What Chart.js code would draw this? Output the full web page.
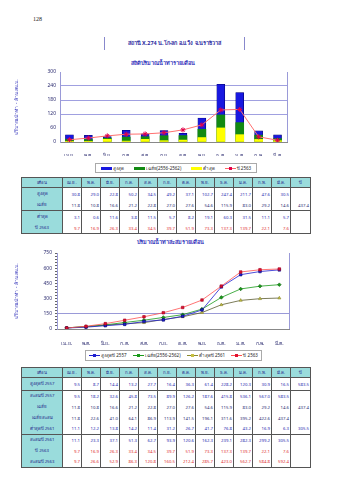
<!DOCTYPE html>
<html>
<head>
<meta charset="utf-8">
<script src="https://cdn.jsdelivr.net/npm/chart.js@4.4.1/dist/chart.umd.min.js"></script>
<style>
  body { margin: 0; background: #fff; font-family: "Noto Sans", "DejaVu Sans", sans-serif; }
  #page { position: relative; width: 339px; height: 480px; overflow: hidden; }
  .abs { position: absolute; }
  .pageno { left: 33px; top: 16px; font: 6px "Liberation Serif", serif; color: #222; }
  .station { left: 104px; top: 37px; width: 139px; height: 13px; border-left: 1px solid #8888cc; border-right: 1px solid #8888cc;
    text-align: center; line-height: 13px; font-size: 5.5px; font-weight: bold; color: #2a2aa0; }
  .ctitle { font-size: 5.5px; font-weight: bold; color: #3333bb; text-align: center; }
  .legend { border: 1px solid #aaa; font-size: 4.5px; color: #222; display: flex; align-items: center; justify-content: space-around; box-sizing: border-box; }
  .legend span { display: inline-flex; align-items: center; white-space: nowrap; }
  .sw { display: inline-block; width: 11px; height: 3px; margin-right: 1px; }
  .ln { display: inline-block; width: 11px; height: 1px; margin-right: 1px; position: relative; }
  .ln i { position: absolute; left: 4px; top: -1px; width: 3px; height: 3px; }
  table { border-collapse: collapse; table-layout: fixed; font-size: 4.3px; }
  td { border-left: 1px solid #555; border-right: 1px solid #555; text-align: right; padding: 0 1px; white-space: nowrap; overflow: hidden; }
  tr.h td { background: #9adcdc; text-align: center; color: #22228a; border: 1px solid #555; }
  td.lab { background: #9adcdc; text-align: center; color: #22228a; }
  tr.top td { border-top: 1px solid #555; }
  tr.last td { border-bottom: 1px solid #555; }
  canvas { position: absolute; }
</style>
</head>
<body>
<div id="page">
  <div class="abs pageno">128</div>
  <div class="abs station">สถานี X.274 น.โก-ลก อ.แว้ง จ.นราธิวาส</div>

  <div class="abs ctitle" style="left:80px;top:59px;width:166px;">สถิติปริมาณน้ำท่ารายเดือน</div>
  <canvas id="monthlyChart" width="280" height="100" style="left:14px;top:56px;"></canvas>
  <div class="abs legend" style="left:95px;top:163px;width:162px;height:10px;">
    <span><i class="sw" style="background:#1818e0"></i>สูงสุด</span>
    <span><i class="sw" style="background:#128a12"></i>เฉลี่ย(2556-2562)</span>
    <span><i class="sw" style="background:#ffff00"></i>ต่ำสุด</span>
    <span><i class="ln" style="background:#ff6666"><i style="background:#e0004c"></i></i>ปี 2563</span>
  </div>
  <table id="table1" class="abs" style="left:21px;top:177px;width:288px;"></table>

  <div class="abs ctitle" style="left:87px;top:238px;width:166px;">ปริมาณน้ำท่าสะสมรายเดือน</div>
  <canvas id="cumulativeChart" width="280" height="110" style="left:14px;top:236px;"></canvas>
  <div class="abs legend" style="left:85px;top:350px;width:177px;height:11px;">
    <span><i class="ln" style="background:#2020d0"><i style="background:#2020d0"></i></i>สูงสุดปี 2557</span>
    <span><i class="ln" style="background:#1a9a1a"><i style="background:#1a9a1a"></i></i>เฉลี่ย(2556-2562)</span>
    <span><i class="ln" style="background:#8a8a30"><i style="background:#c8c040"></i></i>ต่ำสุดปี 2561</span>
    <span><i class="ln" style="background:#ff5050"><i style="background:#e01030"></i></i>ปี 2563</span>
  </div>
  <table id="table2" class="abs" style="left:21px;top:367px;width:288px;"></table>
</div>

<script>
// month labels (water year Apr - Mar)
const months = ['เม.ย.', 'พ.ค.', 'มิ.ย.', 'ก.ค.', 'ส.ค.', 'ก.ย.', 'ต.ค.', 'พ.ย.', 'ธ.ค.', 'ม.ค.', 'ก.พ.', 'มี.ค.'];

// monthly runoff, million m3
const maxMonthly = [30.8, 29.0, 22.8, 50.2, 34.5, 49.2, 37.1, 102.7, 247.4, 211.7, 47.6, 30.5];
const meanMonthly = [11.8, 10.8, 16.6, 21.2, 22.8, 27.0, 27.6, 54.6, 115.9, 83.0, 29.2, 14.6];
const minMonthly = [3.1, 0.6, 11.6, 3.8, 11.5, 5.7, 8.2, 19.1, 60.3, 31.5, 11.1, 5.7];
const year2563 = [9.7, 16.9, 26.3, 33.4, 34.5, 39.7, 51.9, 73.3, 137.3, 139.7, 22.1, 7.6];

// year with highest / lowest runoff
const max2557 = [9.5, 8.7, 14.4, 13.2, 27.7, 16.4, 36.3, 61.4, 228.2, 120.3, 30.9, 16.5];
const min2561 = [11.1, 12.2, 13.8, 14.2, 11.4, 31.2, 26.7, 41.7, 76.8, 43.2, 16.9, 6.3];

// cumulative series
const cumMax2557 = [9.5, 18.2, 32.6, 45.8, 73.5, 89.9, 126.2, 187.6, 415.8, 536.1, 567.0, 583.5];
const cumMean = [11.8, 22.6, 41.0, 64.1, 86.9, 113.9, 141.5, 196.1, 311.6, 395.2, 422.6, 437.4];
const cumMin2561 = [11.1, 23.3, 37.1, 51.3, 62.7, 93.9, 120.6, 162.3, 239.1, 282.3, 299.2, 305.5];
const cum2563 = [9.7, 26.6, 52.9, 86.3, 120.8, 160.5, 212.4, 285.7, 423.0, 562.7, 584.8, 592.4];

// yearly totals
const totalMean = 437.4;
const totalMax2557 = 583.5;
const totalMin2561 = 305.5;

const axisTitle = 'ปริมาณน้ำท่า - ล้าน ลบ.ม.';
const fontFamily = '"Noto Sans", "DejaVu Sans", sans-serif';
const tickColor = '#2c2c70';

// right edge of the plot frame
const frameRight = {
  id: 'frameRight',
  afterDraw(chart) {
    const a = chart.chartArea;
    const c = chart.ctx;
    c.save();
    c.strokeStyle = '#9a9ad8';
    c.lineWidth = 1;
    c.beginPath();
    c.moveTo(Math.round(a.right) + 0.5, a.top);
    c.lineTo(Math.round(a.right) + 0.5, a.bottom);
    c.stroke();
    c.restore();
  },
};

Chart.defaults.font.family = fontFamily;
Chart.defaults.font.size = 5;
Chart.defaults.color = tickColor;
Chart.defaults.animation = false;

// Monthly chart
new Chart(document.getElementById('monthlyChart'), {
  type: 'bar',
  data: {
    labels: months,
    datasets: [
      {
        type: 'line',
        label: 'ปี 2563',
        data: year2563,
        borderColor: '#ff6f6f',
        borderWidth: 1,
        pointStyle: 'star',
        pointRadius: 2.5,
        pointBorderColor: '#e0004c',
        pointBackgroundColor: '#e0004c',
        pointBorderWidth: 1,
        order: 0,
      },
      { label: 'ต่ำสุด', data: minMonthly, backgroundColor: '#ffff00', order: 1 },
      { label: 'เฉลี่ย(2556-2562)', data: meanMonthly, backgroundColor: '#128a12', order: 2 },
      { label: 'สูงสุด', data: maxMonthly, backgroundColor: '#1818e0', borderColor: '#00006a', borderWidth: 0.6, order: 3 },
    ],
  },
  options: {
    responsive: false,
    layout: { padding: { top: 16, right: 7, left: 0, bottom: 0 } },
    plugins: { legend: { display: false }, tooltip: { enabled: false } },
    datasets: { bar: { barThickness: 8 } },
    scales: {
      x: {
        stacked: true,
        grid: { display: false },
        border: { color: '#888' },
        ticks: { padding: 3, maxRotation: 0 },
        afterFit(scale) { scale.height = 14; },
      },
      y: {
        stacked: false,
        min: 0,
        max: 300,
        ticks: { stepSize: 60, padding: 4 },
        grid: {
          color: (ctx) => (ctx.tick && [120, 180, 240].includes(ctx.tick.value) ? '#a0a0e0' : 'transparent'),
          drawTicks: false,
        },
        border: { color: '#9a9ad8' },
        title: { display: true, text: axisTitle, color: '#3333bb', padding: 0, font: { size: 5 } },
        afterFit(scale) { scale.width = 46; },
      },
    },
  },
  plugins: [frameRight],
});

// Cumulative chart
new Chart(document.getElementById('cumulativeChart'), {
  type: 'line',
  data: {
    labels: months,
    datasets: [
      { label: 'ปี 2563', data: cum2563, borderColor: '#ff5050', pointBackgroundColor: '#e01030', pointBorderColor: '#a00020', pointStyle: 'rect' },
      { label: 'สูงสุดปี 2557', data: cumMax2557, borderColor: '#2020d0', pointBackgroundColor: '#2020d0', pointBorderColor: '#000070', pointStyle: 'rect' },
      { label: 'เฉลี่ย(2556-2562)', data: cumMean, borderColor: '#1a9a1a', pointBackgroundColor: '#1a9a1a', pointBorderColor: '#0a5a0a', pointStyle: 'rectRot' },
      { label: 'ต่ำสุดปี 2561', data: cumMin2561, borderColor: '#5a5a30', pointBackgroundColor: '#c8c040', pointBorderColor: '#8a8a30', pointStyle: 'triangle' },
    ],
  },
  options: {
    responsive: false,
    layout: { padding: { top: 17, right: 5, left: 0, bottom: 0 } },
    plugins: { legend: { display: false }, tooltip: { enabled: false } },
    datasets: { line: { borderWidth: 0.8, pointRadius: 1.8, pointBorderWidth: 0.6, tension: 0 } },
    scales: {
      x: {
        offset: true,
        grid: { display: false },
        border: { color: '#888' },
        ticks: { padding: 4, maxRotation: 0 },
        afterFit(scale) { scale.height = 17; },
      },
      y: {
        min: 0,
        max: 750,
        ticks: {
          stepSize: 30,
          autoSkip: false,
          padding: 3,
          callback: (v) => (v % 150 === 0 ? v : ''),
        },
        grid: {
          color: (ctx) => (ctx.tick && ctx.tick.value === 150 ? '#9a9ad8' : 'transparent'),
          drawTicks: true,
          tickLength: 2,
          tickColor: '#666',
        },
        border: { color: '#9a9ad8' },
        title: { display: true, text: axisTitle, color: '#3333bb', padding: 0, font: { size: 5 } },
        afterFit(scale) { scale.width = 43; },
      },
    },
  },
  plugins: [frameRight],
});

// Tables
function fmt(v) { return v.toFixed(1); }

function buildTable(el, rows) {
  let html = '<colgroup><col style="width:41px">';
  months.forEach(() => { html += '<col style="width:19px">'; });
  html += '<col style="width:20px"></colgroup>';
  html += '<tr class="h" style="height:10px"><td>เดือน</td>' + months.map((m) => '<td>' + m + '</td>').join('') + '<td>ปี</td></tr>';
  rows.forEach((r) => {
    const cls = (r.top ? 'top ' : '') + (r.last ? 'last' : '');
    html += '<tr class="' + cls + '" style="height:' + r.h + 'px"><td class="lab">' + r.label + '</td>';
    html += r.values.map((v) => '<td style="color:' + r.color + '">' + fmt(v) + '</td>').join('');
    html += '<td style="color:' + r.color + '">' + (r.total != null ? fmt(r.total) : '') + '</td></tr>';
  });
  el.innerHTML = html;
}

buildTable(document.getElementById('table1'), [
  { label: 'สูงสุด', values: maxMonthly, color: '#2a2ab0', h: 11.5, top: true },
  { label: 'เฉลี่ย', values: meanMonthly, color: '#2a2a70', h: 11.5, total: totalMean },
  { label: 'ต่ำสุด', values: minMonthly, color: '#2a2ab0', h: 11.5, top: true },
  { label: 'ปี 2563', values: year2563, color: '#e03030', h: 11.5, last: true },
]);

buildTable(document.getElementById('table2'), [
  { label: 'สูงสุดปี 2557', values: max2557, color: '#2a2ab0', h: 12.5, top: true, total: totalMax2557 },
  { label: 'สะสมปี 2557', values: cumMax2557, color: '#2a2ab0', h: 11, top: true },
  { label: 'เฉลี่ย', values: meanMonthly, color: '#2a2a70', h: 11, total: totalMean },
  { label: 'เฉลี่ยสะสม', values: cumMean, color: '#2a2a70', h: 11 },
  { label: 'ต่ำสุดปี 2561', values: min2561, color: '#2a2ab0', h: 11, total: totalMin2561 },
  { label: 'สะสมปี 2561', values: cumMin2561, color: '#2a2ab0', h: 11, top: true },
  { label: 'ปี 2563', values: year2563, color: '#e03030', h: 11 },
  { label: 'สะสมปี 2563', values: cum2563, color: '#e03030', h: 11, last: true },
]);
</script>
</body>
</html>
